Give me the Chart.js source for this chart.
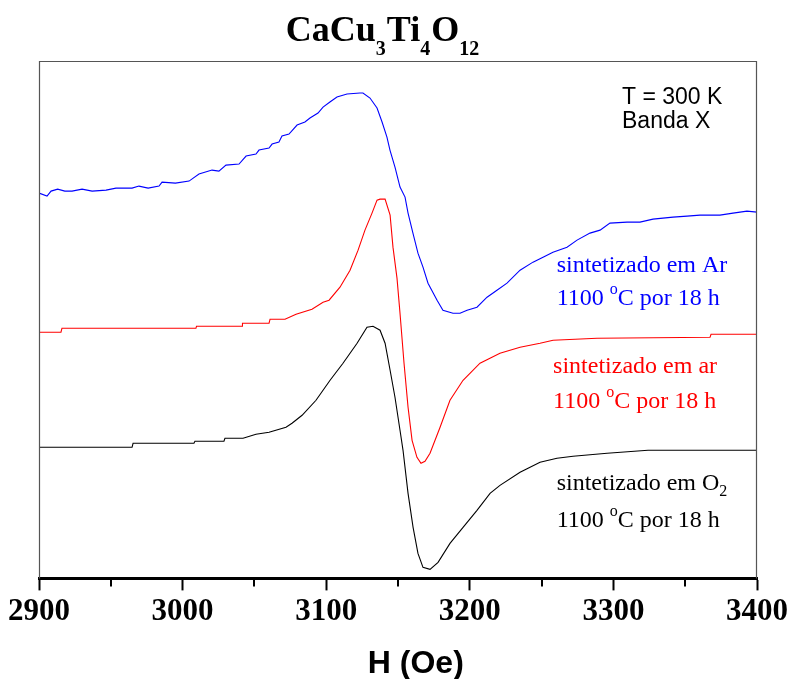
<!DOCTYPE html>
<html><head><meta charset="utf-8">
<script src="https://cdn.jsdelivr.net/npm/chart.js@4.4.1/dist/chart.umd.min.js"></script>
<style>html,body{margin:0;padding:0;background:#fff;}#wrap{width:788px;height:679px;}</style>
</head><body><div id="wrap"><canvas id="c" width="788" height="679"></canvas></div>
<script>
// ---- Data (field in Oe, EPR derivative signal in arbitrary units incl. vertical offset) ----
const xTickLabels = ['2900','3000','3100','3200','3300','3400'];

const arField = [2900.0,2905.6,2908.4,2913.0,2918.0,2923.0,2930.0,2937.0,2946.7,2953.6,2964.8,2969.6,2976.0,2983.6,2985.7,2995.0,3004.5,3011.4,3020.5,3025.3,3030.2,3039.3,3044.2,3051.1,3053.2,3060.2,3062.3,3067.1,3069.2,3074.1,3079.7,3085.2,3088.7,3094.3,3097.8,3102.6,3107.5,3114.5,3123.5,3125.6,3130.5,3135.4,3138.9,3142.3,3144.4,3147.9,3151.4,3154.9,3157.0,3160.4,3163.9,3167.4,3170.9,3177.2,3181.3,3188.3,3193.2,3198.1,3205.0,3212.0,3218.9,3225.9,3235.0,3244.0,3251.0,3257.9,3267.7,3274.7,3283.7,3290.7,3297.6,3309.5,3318.5,3327.6,3341.5,3351.3,3360.3,3374.2,3383.3,3393.0,3400.0];
const arSignal = [385,382,387,389,387,387,389,387,388,390,390,392,390,392,396,395,397,404,408,407,413,414,422,424,428,430,434,436,442,444,453,456,460,465,471,476,481,484,485,485,480,470,456,441,428,411,391,381,365,345,325,311,295,278,268,265,265,268,271,281,288,295,308,316,321,326,331,338,345,348,355,356,356,359,361,362,363,363,365,367,366];

const airField = [2900.0,2915.3,2916.0,3009.3,3009.7,3041.4,3041.7,3060.2,3060.9,3071.3,3079.0,3090.1,3097.8,3102.0,3109.6,3116.6,3122.2,3127.0,3131.9,3135.4,3137.5,3141.0,3144.5,3146.5,3149.3,3151.4,3154.2,3157.0,3159.8,3163.2,3166.0,3168.8,3172.3,3179.3,3186.2,3195.3,3207.1,3221.0,3235.0,3248.9,3258.0,3288.6,3367.3,3368.0,3400.0];
const airSignal = [246,246,250,250,252,252,255,255,259,259,264,269,276,278,291,308,328,348,365,378,379,379,363,331,300,265,215,171,138,121,115,117,125,151,178,198,215,225,231,235,238,240,241,244,244];

const o2Field = [2900.0,2964.8,2965.5,3007.9,3008.6,3028.8,3029.5,3042.1,3051.1,3060.2,3072.0,3076.2,3083.2,3092.9,3102.7,3111.7,3121.5,3128.4,3132.6,3137.5,3141.0,3144.5,3147.9,3151.4,3153.5,3157.0,3160.5,3163.9,3167.4,3172.3,3177.9,3186.2,3195.3,3205.0,3214.1,3221.0,3235.0,3248.9,3260.7,3271.9,3295.6,3324.1,3400.0];
const o2Signal = [131,131,135,135,137,137,140,140,144,146,151,155,163,178,198,215,235,251,252,248,235,208,181,148,128,85,51,25,11,9,16,35,51,68,85,93,106,116,120,122,125,128,128];

const seriesColors = ['#0000ff','#ff0000','#000000'];

function pts(xs, ys){ return xs.map((v,i)=>({x:v, y:ys[i]})); }

const serif = "'Liberation Serif','Times New Roman',serif";
const sans = "'Liberation Sans',Arial,sans-serif";

function drawRich(ctx, parts, x, y, size, color){
  ctx.fillStyle = color;
  ctx.textBaseline = 'alphabetic';
  ctx.textAlign = 'left';
  let cx = x;
  for (const p of parts){
    if (p.m === 'sup'){
      ctx.font = `${Math.round(size*0.65)}px ${serif}`;
      ctx.fillText(p.t, cx, y - size*0.48);
    } else if (p.m === 'sub'){
      ctx.font = `${Math.round(size*0.65)}px ${serif}`;
      ctx.fillText(p.t, cx, y + size*0.22);
    } else {
      ctx.font = `${size}px ${serif}`;
      ctx.fillText(p.t, cx, y);
    }
    cx += ctx.measureText(p.t).width;
  }
}

const decor = {
  id: 'decor',
  afterDraw(chart){
    const {ctx, chartArea:a, scales:{x, y}} = chart;
    ctx.save();
    // frame (left, top, right)
    ctx.strokeStyle = '#555';
    ctx.lineWidth = 1.2;
    ctx.beginPath();
    ctx.moveTo(a.left+0.5, a.bottom);
    ctx.lineTo(a.left+0.5, a.top+0.5);
    ctx.lineTo(a.right-0.5, a.top+0.5);
    ctx.lineTo(a.right-0.5, a.bottom);
    ctx.stroke();

    // minor ticks (shorter) for the non-labelled ticks
    ctx.strokeStyle = '#000';
    ctx.lineWidth = 2;
    ctx.beginPath();
    x.ticks.forEach(t => {
      if (t.value % 100 !== 0){
        const px = Math.round(x.getPixelForValue(t.value));
        ctx.moveTo(px, a.bottom);
        ctx.lineTo(px, a.bottom + 8);
      }
    });
    ctx.stroke();

    // title CaCu3Ti4O12
    const big = `bold 36px ${serif}`, small = `bold 20px ${serif}`;
    const tparts = [['CaCu',0],['3',1],['Ti',0],['4',1],['O',0],['12',1]];
    let w = 0;
    tparts.forEach(([t,s])=>{ ctx.font = s?small:big; w += ctx.measureText(t).width + (s?1:0); });
    let cx = 383 - w/2;
    ctx.fillStyle = '#000';
    ctx.textBaseline = 'alphabetic';
    tparts.forEach(([t,s])=>{
      ctx.font = s?small:big;
      ctx.fillText(t, cx, s ? 55 : 41);
      cx += ctx.measureText(t).width + (s?1:0);
    });

    // T = 300 K / Banda X
    ctx.font = `23px ${sans}`;
    ctx.fillStyle = '#000';
    const tx = x.getPixelForValue(3306);
    ctx.fillText('T = 300 K', tx, y.getPixelForValue(474));
    ctx.fillText('Banda X', tx, y.getPixelForValue(450));

    // series labels
    const sx = x.getPixelForValue(3260.5);
    drawRich(ctx, [{t:'sintetizado em Ar'}], sx, y.getPixelForValue(306), 24, seriesColors[0]);
    drawRich(ctx, [{t:'1100 '},{t:'o',m:'sup'},{t:'C por 18 h'}], sx, y.getPixelForValue(273), 24, seriesColors[0]);
    const rx = x.getPixelForValue(3258.0);
    drawRich(ctx, [{t:'sintetizado em ar'}], rx, y.getPixelForValue(205), 24, seriesColors[1]);
    drawRich(ctx, [{t:'1100 '},{t:'o',m:'sup'},{t:'C por 18 h'}], rx, y.getPixelForValue(170), 24, seriesColors[1]);
    drawRich(ctx, [{t:'sintetizado em O'},{t:'2',m:'sub'}], sx, y.getPixelForValue(88), 24, seriesColors[2]);
    drawRich(ctx, [{t:'1100 '},{t:'o',m:'sup'},{t:'C por 18 h'}], sx, y.getPixelForValue(51), 24, seriesColors[2]);
    ctx.restore();
  }
};

new Chart(document.getElementById('c'), {
  type: 'line',
  data: {
    datasets: [
      {label:'sintetizado em Ar', data: pts(arField, arSignal), borderColor: seriesColors[0]},
      {label:'sintetizado em ar', data: pts(airField, airSignal), borderColor: seriesColors[1]},
      {label:'sintetizado em O2', data: pts(o2Field, o2Signal), borderColor: seriesColors[2]}
    ]
  },
  options: {
    responsive: false,
    animation: false,
    devicePixelRatio: 1,
    layout: {padding: {left: 39, right: 31, top: 61, bottom: 0}},
    elements: {line: {borderWidth: 1.1, tension: 0}, point: {radius: 0}},
    plugins: {legend: {display: false}, tooltip: {enabled: false}, title: {display: false}},
    scales: {
      x: {
        type: 'linear', min: 2900, max: 3400,
        afterFit: (s) => { s.paddingLeft = 0; s.paddingRight = 0; },
        border: {display: true, color: '#000', width: 3},
        grid: {drawOnChartArea: false, drawTicks: true, tickLength: 12, tickWidth: 2,
          tickColor: (c) => (c.tick && c.tick.value % 100 === 0 ? '#000' : 'rgba(0,0,0,0)')},
        ticks: {
          stepSize: 50, autoSkip: false, maxRotation: 0, padding: 3, color: '#000',
          font: {family: serif, size: 31, weight: 'bold'},
          callback: (v) => (v % 100 === 0 ? xTickLabels[(v - 2900) / 100] : '')
        },
        title: {display: true, text: '\u00a0\u00a0\u00a0\u00a0H (Oe)', color: '#000',
          font: {family: sans, size: 32, weight: 'bold'}, padding: {top: 11, bottom: -4}}
      },
      y: {display: false, min: 0, max: 517}
    }
  },
  plugins: [decor]
});
</script></body></html>
